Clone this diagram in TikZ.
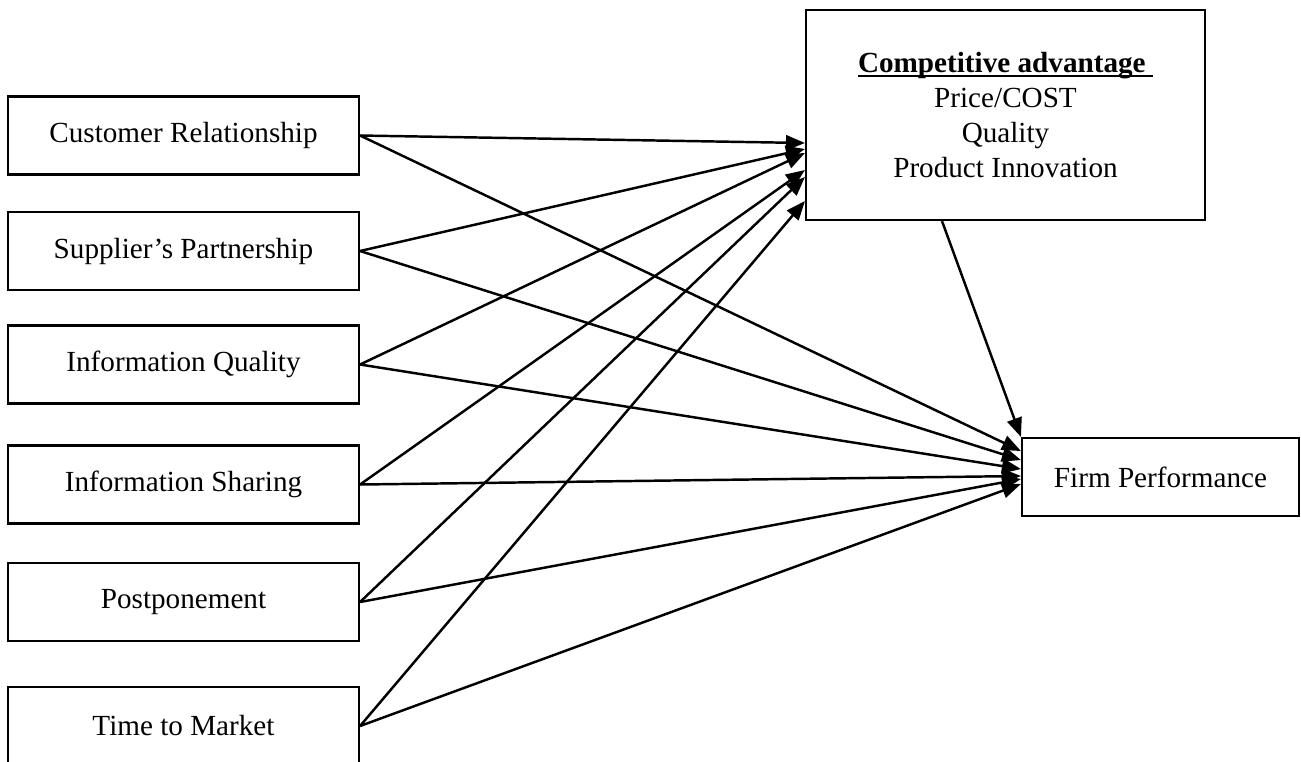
\documentclass[tikz,border=0pt]{standalone}
\usepackage{fontspec}
\setmainfont{Liberation Serif}
\usetikzlibrary{arrows.meta}

% bold heading with a flat underline that runs through the descenders
\newsavebox{\headbox}
\newcommand{\ulhead}[1]{\sbox\headbox{\bfseries #1}%
  \rlap{\rule[-0.17em]{\wd\headbox}{0.07em}}\usebox\headbox}

\begin{document}
\begin{tikzpicture}[font=\fontsize{8.3}{9.96}\selectfont,
    driver/.style={draw, line width=0.6pt, minimum width=3.51cm,
                   minimum height=0.78cm, inner sep=0pt},
    advbox/.style={draw, line width=0.6pt, minimum width=3.99cm,
                   minimum height=2.10cm, align=center, inner sep=0pt},
    perfbox/.style={draw, line width=0.6pt, minimum width=2.77cm,
                    minimum height=0.78cm, inner sep=0pt},
    link/.style={-{Triangle[length=1.9mm, width=1.5mm]}, line width=0.7pt}]

  \useasboundingbox (0,0) rectangle (13.01,-7.61);

  % ---- the six practices down the left
  \node[driver] (cr)  at (1.835,-1.355) {Customer Relationship};
  \node[driver] (sp)  at (1.835,-2.51)  {Supplier’s Partnership};
  \node[driver] (iq)  at (1.835,-3.645) {Information Quality};
  \node[driver] (is)  at (1.835,-4.845) {Information Sharing};
  \node[driver] (pp)  at (1.835,-6.02)  {Postponement};
  \node[driver] (ttm) at (1.835,-7.26)  {Time to Market};

  % ---- mediator and outcome
  \node[advbox] (ca) at (10.055,-1.15)
    {\ulhead{Competitive advantage\ }\\Price/COST\\Quality\\Product Innovation};
  \node[perfbox] (fp) at (11.605,-4.77) {Firm Performance};

  % ---- every practice feeds both boxes on the right
  \foreach \src/\dy in {cr/-0.28, sp/-0.34, iq/-0.38, is/-0.55, pp/-0.62, ttm/-0.86}
    \draw[link] (\src.east) -- ([yshift=\dy cm]ca.west);
  \foreach \src/\dy in {cr/0.26, sp/0.17, iq/0.08, is/0.01, pp/-0.02, ttm/-0.07}
    \draw[link] (\src.east) -- ([yshift=\dy cm]fp.west);

  \draw[link] ([xshift=-0.635cm]ca.south) -- (fp.north west);
\end{tikzpicture}
\end{document}
